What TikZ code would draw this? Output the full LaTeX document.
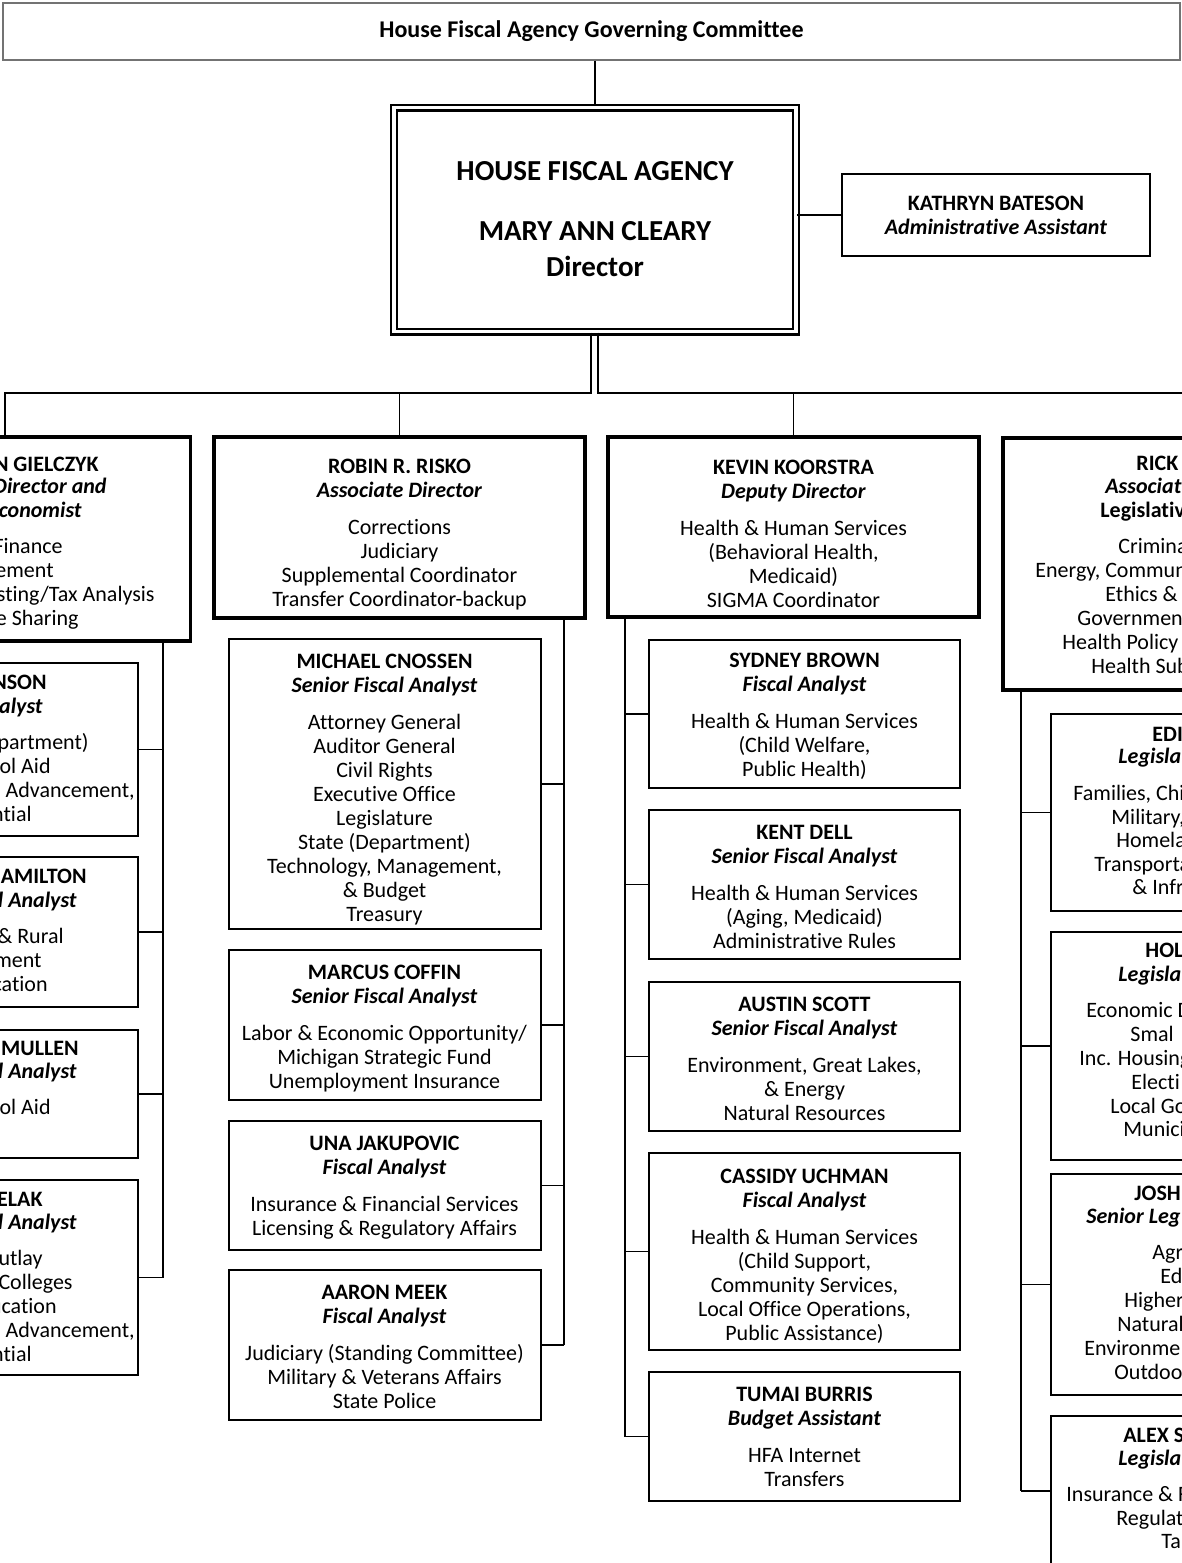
\documentclass[tikz,border=0pt]{standalone}
\usepackage{fontspec}
\setmainfont{Carlito}[Ligatures=NoCommon]
\newcommand{\staff}[3][2pt]{\textbf{\rule{0pt}{\dimexpr7.1pt+#1\relax}#2}\\\textbf{\textit{#3}}\\[6.5pt]}

\begin{document}
\begin{tikzpicture}[x=0.5pt,y=-0.5pt,
  box/.style={draw=black,line width=1pt,fill=white,align=center,inner sep=0pt,
    font=\fontsize{11}{12}\selectfont},
  headbox/.style={box,line width=1.6pt,minimum width=185.5pt},
  subbox/.style={box,minimum width=156pt},
  link/.style={draw=black,line width=0.6pt},
  lt/.style={anchor=mid east,inner sep=0pt,font=\fontsize{11}{12}\selectfont},
  rt/.style={anchor=mid west,inner sep=0pt,font=\fontsize{11}{12}\selectfont},
  nm/.style={font=\fontsize{11}{12}\selectfont\bfseries},
  tl/.style={font=\fontsize{11}{12}\selectfont\bfseries\itshape},
  bd/.style={}]
\useasboundingbox (0,0) rectangle (1182,1563);
\clip (0,0) rectangle (1182,1563);

\node[draw=black!55,line width=1pt,minimum width=588.5pt,minimum height=28.5pt,
  font=\fontsize{12}{13}\selectfont\bfseries] (comm) at (591.5,31) {House Fiscal Agency Governing Committee};
\node[draw=black,double,line width=1.2pt,double distance=1.6pt,minimum width=201pt,minimum height=112pt,
  align=center,font=\fontsize{14.5}{18}\selectfont\bfseries] (dir) at (595,219.5)
  {HOUSE FISCAL AGENCY\\[12pt]MARY ANN CLEARY\\Director};
\node[box,line width=0.8pt,minimum width=154pt,minimum height=41pt] (kath) at (996,215)
  {\textbf{KATHRYN BATESON}\\\textbf{\textit{Administrative Assistant}}};

\node[headbox,minimum height=102pt] (giel) at (5,539) {};
\node[headbox,minimum height=90.5pt] (risko) at (399.5,527.5)
  {\staff[7.5pt]{ROBIN R. RISKO}{Associate Director}Corrections\\Judiciary\\Supplemental Coordinator\\Transfer Coordinator-backup};
\node[headbox,minimum height=90pt] (koor) at (793.5,527)
  {\staff[7pt]{KEVIN KOORSTRA}{Deputy Director}Health \& Human Services\\(Behavioral Health,\\Medicaid)\\SIGMA Coordinator};
\node[headbox,minimum height=126pt] (rick) at (1188.5,564) {};

\node[subbox,minimum height=86.5pt] (jo) at (-18.5,749.5) {};
\node[subbox,minimum height=75pt] (ham) at (-18.5,932) {};
\node[subbox,minimum height=64pt] (mul) at (-18.5,1094) {};
\node[subbox,minimum height=97.5pt] (pel) at (-18.5,1277.5) {};

\node[subbox,minimum height=145pt] (cnossen) at (384.5,784)
  {\staff[6pt]{MICHAEL CNOSSEN}{Senior Fiscal Analyst}Attorney General\\Auditor General\\Civil Rights\\Executive Office\\Legislature\\State (Department)\\Technology, Management,\\\& Budget\\Treasury};
\node[subbox,minimum height=75pt] (coffin) at (384.5,1025)
  {\staff[4pt]{MARCUS COFFIN}{Senior Fiscal Analyst}Labor \& Economic Opportunity/\\Michigan Strategic Fund\\Unemployment Insurance};
\node[subbox,minimum height=64.5pt] (jaku) at (384.5,1185.5)
  {\staff{UNA JAKUPOVIC}{Fiscal Analyst}Insurance \& Financial Services\\Licensing \& Regulatory Affairs};
\node[subbox,minimum height=75pt] (meek) at (384.5,1345)
  {\staff{AARON MEEK}{Fiscal Analyst}Judiciary (Standing Committee)\\Military \& Veterans Affairs\\State Police};

\node[subbox,minimum width=155.5pt,minimum height=74pt] (brown) at (804.5,714)
  {\staff{SYDNEY BROWN}{Fiscal Analyst}Health \& Human Services\\(Child Welfare,\\Public Health)};
\node[subbox,minimum width=155.5pt,minimum height=74.5pt] (dell) at (804.5,884.5)
  {\staff{KENT DELL}{Senior Fiscal Analyst}Health \& Human Services\\(Aging, Medicaid)\\Administrative Rules};
\node[subbox,minimum width=155.5pt,minimum height=74.5pt] (scott) at (804.5,1056.5)
  {\staff{AUSTIN SCOTT}{Senior Fiscal Analyst}Environment, Great Lakes,\\\& Energy\\Natural Resources};
\node[subbox,minimum width=155.5pt,minimum height=98.5pt] (uchman) at (804.5,1251.5)
  {\staff[5pt]{CASSIDY UCHMAN}{Fiscal Analyst}Health \& Human Services\\(Child Support,\\Community Services,\\Local Office Operations,\\Public Assistance)};
\node[subbox,minimum width=155.5pt,minimum height=64.5pt] (burris) at (804.5,1436.5)
  {\staff[0pt]{TUMAI BURRIS}{Budget Assistant}HFA Internet\\Transfers};

\node[subbox,minimum height=98.5pt] (edith) at (1206.5,812.5) {};
\node[subbox,minimum height=114pt] (hol) at (1206.5,1046) {};
\node[subbox,minimum height=110.5pt] (josh) at (1206.5,1284.5) {};
\node[subbox,minimum height=75pt] (alex) at (1206.5,1491) {};

\foreach \x/\y/\s/\t [count=\i] in {99/467/nm/N GIELCZYK,107/489/tl/Director and,82/513/tl/conomist,
  63/549/bd/Finance,54/573/bd/ement,155/597/bd/{sting/Tax Analysis},79/621/bd/e Sharing,
  47/685/nm/NSON,43/709/tl/alyst,89/745/bd/partment),51/769/bd/ol Aid,135/793/bd/{Advancement,},32/817/bd/ntial,
  87/879/nm/AMILTON,77/903/tl/l Analyst,64/939/bd/\& Rural,42/963/bd/ment,48/987/bd/cation,
  79/1051/nm/MULLEN,77/1074/tl/l Analyst,51/1110/bd/ol Aid,
  43/1202/nm/ELAK,77/1225/tl/l Analyst,43/1261/bd/utlay,73/1285/bd/Colleges,57/1309/bd/ucation,
  135/1333/bd/{Advancement,},32/1357/bd/ntial}
  \node[lt,\s] (c1t\i) at (\x,\y) {\t};

\foreach \x/\y/\s/\t [count=\i] in {1136/466/nm/RICK,1105/489/tl/Associat,1100/513/nm/Legislativ,
  1118/549/bd/Crimina,1035/573/bd/{Energy, Commun},1105/597/bd/Ethics \&,1077/621/bd/Governmen,
  1062/645/bd/Health Policy,1091/669/bd/Health Sub,
  1152/737/nm/EDI,1118/759/tl/Legisla,1073/796/bd/{Families, Chi},1111/820/bd/{Military,},
  1116/843/bd/Homela,1094/867/bd/Transporta,1132/890/bd/\& Infr,
  1145/953/nm/HOL,1118/977/tl/Legisla,1086/1013/bd/Economic D,1130/1037/bd/Smal,
  1079/1061/bd/Inc. Housing,1131/1085/bd/Electi,1110/1109/bd/Local Go,1123/1132/bd/Munici,
  1134/1196/nm/JOSH,1086/1219/tl/Senior Leg,1152/1255/bd/Agr,1160/1279/bd/Ed,1124/1303/bd/Higher,
  1117/1327/bd/Natural,1084/1351/bd/Environme,1114/1375/bd/Outdoo,
  1123/1438/nm/ALEX S,1118/1461/tl/Legisla,1066/1497/bd/Insurance \& F,1116/1521/bd/Regulat,1161/1544/bd/Ta}
  \node[rt,\s] (c4t\i) at (\x,\y) {\t};

\coordinate (hl) at (591,393);
\coordinate (hr) at (598,393);
\coordinate (bus1) at (163,0);
\coordinate (bus2) at (564,0);
\coordinate (bus3) at (625,0);
\coordinate (bus4) at (1021,0);

\draw[link] (dir.north |- comm.south) -- (dir.north);
\draw[link] (dir.east |- kath.west) -- (kath.west);
\draw[link] (hl |- dir.south) -- (hl) -- (hl -| giel.north) -- (giel.north);
\draw[link] (hr |- dir.south) -- (hr) -- (hr -| rick.north) -- (rick.north);
\draw[link] (risko.north |- hl) -- (risko.north);
\draw[link] (koor.north |- hr) -- (koor.north);

\draw[link] (bus1 |- giel.south) -- (bus1 |- pel.east);
\foreach \n in {jo,ham,mul,pel} \draw[link] (bus1 |- \n.east) -- (\n.east);
\draw[link] (bus2 |- risko.south) -- (bus2 |- meek.east);
\foreach \n in {cnossen,coffin,jaku,meek} \draw[link] (bus2 |- \n.east) -- (\n.east);
\draw[link] (bus3 |- koor.south) -- (bus3 |- burris.west);
\foreach \n in {brown,dell,scott,uchman,burris} \draw[link] (bus3 |- \n.west) -- (\n.west);
\draw[link] (bus4 |- rick.south) -- (bus4 |- alex.west);
\foreach \n in {edith,hol,josh,alex} \draw[link] (bus4 |- \n.west) -- (\n.west);
\end{tikzpicture}
\end{document}
